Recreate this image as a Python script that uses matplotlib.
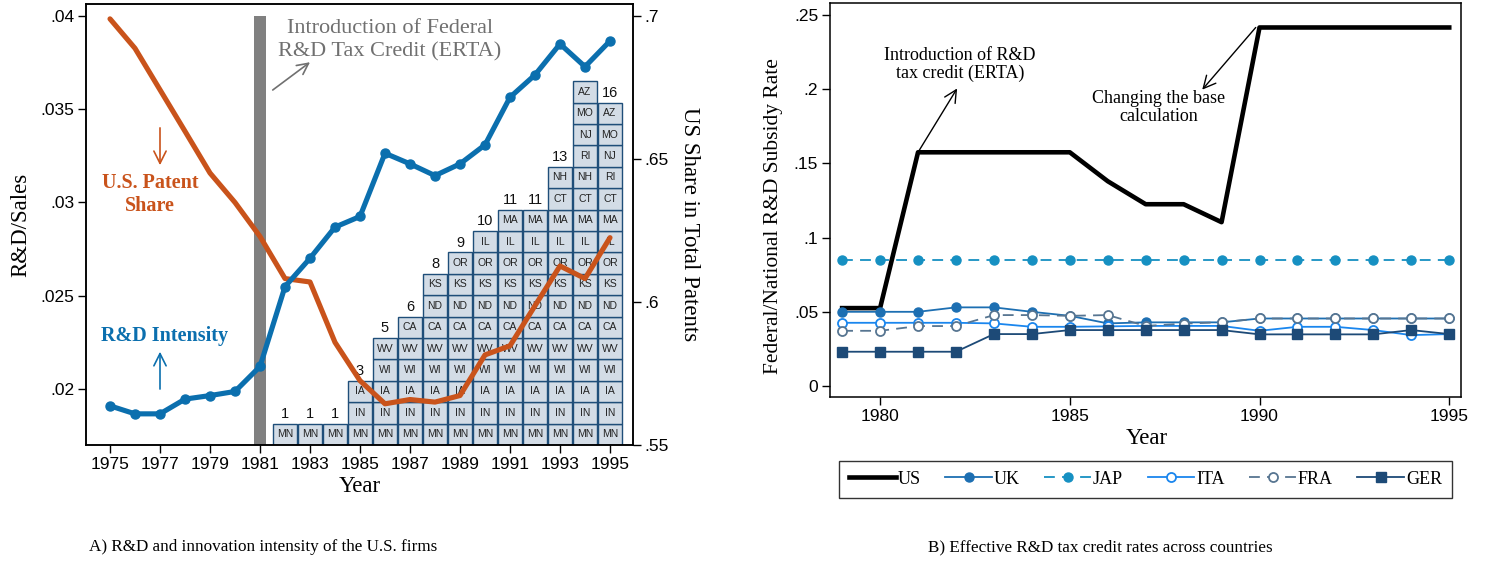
import numpy as np
import matplotlib.pyplot as plt

plt.rcParams['font.family'] = 'Liberation Serif'
SANS = 'Liberation Sans'

# ---- panel A data ----
years_a = list(range(1975, 1996))
rd_sales = [0.0191, 0.01867, 0.01867, 0.01946, 0.01965, 0.01987, 0.02121,
            0.02549, 0.02701, 0.02868, 0.02925, 0.03264, 0.03207, 0.03144,
            0.03207, 0.03309, 0.03564, 0.03684, 0.0385, 0.03728, 0.03866]
us_patent_share = [0.699, 0.6887, 0.6742, 0.6597, 0.6451, 0.6348, 0.6229,
                   0.6082, 0.607, 0.5859, 0.5725, 0.5644, 0.5659, 0.565,
                   0.5673, 0.5815, 0.5847, 0.5987, 0.6126, 0.6082, 0.6225]

bar_years = list(range(1982, 1996))
bar_states = [
    "MN",
    "MN",
    "MN",
    "MN IN IA",
    "MN IN IA WI WV",
    "MN IN IA WI WV CA",
    "MN IN IA WI WV CA ND KS",
    "MN IN IA WI WV CA ND KS OR",
    "MN IN IA WI WV CA ND KS OR IL",
    "MN IN IA WI WV CA ND KS OR IL MA",
    "MN IN IA WI WV CA ND KS OR IL MA",
    "MN IN IA WI WV CA ND KS OR IL MA CT NH",
    "MN IN IA WI WV CA ND KS OR IL MA CT NH RI NJ MO AZ",
    "MN IN IA WI WV CA ND KS OR IL MA CT RI NJ MO AZ",
]
# 1994 count is hidden behind the line in the original
bar_count_labels = ['1', '1', '1', '3', '5', '6', '8', '9', '10', '11', '11',
                    '13', '', '16']

# ---- panel B data ----
years_b = list(range(1979, 1996))
rate_us = [0.0525, 0.0525, 0.1575, 0.1575, 0.1575, 0.1575, 0.1575, 0.138,
           0.1225, 0.1225, 0.1104, 0.2416, 0.2416, 0.2416, 0.2416, 0.2416, 0.2416]
rate_uk = [0.05, 0.05, 0.05, 0.053, 0.053, 0.05, 0.0473, 0.0422, 0.0429,
           0.0429, 0.0429, 0.0455, 0.0455, 0.0455, 0.0455, 0.0455, 0.0455]
rate_jap = [0.085, 0.085, 0.085, 0.085, 0.085, 0.085, 0.085, 0.085, 0.085,
            0.085, 0.085, 0.085, 0.085, 0.085, 0.085, 0.085, 0.085]
rate_ita = [0.0426, 0.0426, 0.0426, 0.0426, 0.0422, 0.0399, 0.0399, 0.0402,
            0.0405, 0.0405, 0.0405, 0.0372, 0.0399, 0.0399, 0.0377, 0.0343, 0.035]
rate_fra = [0.0372, 0.0372, 0.0404, 0.0404, 0.0478, 0.0478, 0.0473, 0.0478,
            0.0405, 0.042, 0.043, 0.0455, 0.0455, 0.0455, 0.0455, 0.0455, 0.0455]
rate_ger = [0.0231, 0.0231, 0.0231, 0.0231, 0.035, 0.035, 0.0377, 0.0377,
            0.0377, 0.0377, 0.0377, 0.0348, 0.0348, 0.0348, 0.0348, 0.0377, 0.035]


def dotfmt(v):
    return '0' if abs(v) < 1e-12 else ('%g' % v).lstrip('0')


BLUE = '#0b6fae'
ORANGE = '#c9531b'
GRAY = '#707070'

fig = plt.figure(figsize=(14.86, 5.62), dpi=100)

# ================= Panel A =================
posA = [86 / 1486, 1 - 445 / 562, (633 - 86) / 1486, (445 - 4) / 562]
ax_l = fig.add_axes(posA)
ax_r = ax_l.twinx()
ax_b = ax_l.twinx()
ax_b.set_zorder(1)
ax_r.set_zorder(2)
ax_l.set_zorder(3)
ax_l.patch.set_visible(False)
ax_r.patch.set_visible(False)

ax_l.set_xlim(1974.04, 1995.92)

# stacked state cells
ax_b.axis('off')
ax_b.set_ylim(0, 441 / 21.4)
for yr, states, lab in zip(bar_years, bar_states, bar_count_labels):
    st = states.split()
    for i, s in enumerate(st):
        ax_b.bar(yr, 1, bottom=i, width=0.98, facecolor='#d3dce6',
                 edgecolor='#1f4e79', linewidth=1.0)
        ax_b.text(yr, i + 0.5, s, ha='center', va='center', fontsize=7.5,
                  family=SANS, color='#222222')
    if lab:
        ax_b.text(yr, len(st) + 0.12, lab, ha='center', va='bottom',
                  fontsize=10.5, family=SANS, color='#111111')

# right axis: patent share + 1981 marker bar
ax_r.set_ylim(0.55, 0.7042)
ax_r.bar(1981, 0.15, bottom=0.55, width=0.5, color='#808080', zorder=1)
ax_r.plot(years_a, us_patent_share, color=ORANGE, lw=3.7,
          solid_capstyle='round', zorder=3)
ax_r.set_yticks([0.55, 0.6, 0.65, 0.7])
ax_r.set_yticklabels([dotfmt(v) for v in [0.55, 0.6, 0.65, 0.7]])
ax_r.set_ylabel('US Share in Total Patents', fontsize=16.5, rotation=-90,
                va='center', ha='center')
ax_r.yaxis.set_label_coords(1.104, 0.5)

# left axis: R&D intensity
ax_l.set_ylim(0.01700, 0.04064)
ax_l.plot(years_a, rd_sales, color=BLUE, lw=3.7, marker='o', ms=6.5,
          solid_capstyle='round', zorder=4)
ax_l.set_yticks([0.02, 0.025, 0.03, 0.035, 0.04])
ax_l.set_yticklabels([dotfmt(v) for v in [0.02, 0.025, 0.03, 0.035, 0.04]])
ax_l.set_xticks(list(range(1975, 1996, 2)))
ax_l.set_ylabel('R&D/Sales', fontsize=16.5, va='center', ha='center')
ax_l.yaxis.set_label_coords(-0.12, 0.5)
ax_l.set_xlabel('Year', fontsize=16.5, va='center')
ax_l.xaxis.set_label_coords(0.501, -0.095)

for ax in (ax_l, ax_r):
    ax.tick_params(direction='out', length=5.5, width=1.0, labelsize=12.5,
                   pad=3)
    for lbl in ax.get_xticklabels() + ax.get_yticklabels():
        lbl.set_family(SANS)
    for sp in ax.spines.values():
        sp.set_linewidth(1.1)

ax_l.text(1986.2, 0.0387, 'Introduction of Federal\nR&D Tax Credit (ERTA)',
          ha='center', va='center', fontsize=16, color=GRAY, linespacing=1.3)
ax_l.annotate('', xy=(1983.0, 0.03752), xytext=(1981.51, 0.03603),
              arrowprops=dict(arrowstyle='->', color=GRAY, lw=1.2,
                              mutation_scale=20, shrinkA=0, shrinkB=0))
ax_l.text(1976.6, 0.03041, 'U.S. Patent\nShare', ha='center', va='center',
          fontsize=14.5, color=ORANGE, fontweight='bold', linespacing=1.2)
ax_l.annotate('', xy=(1977.0, 0.0320), xytext=(1977.0, 0.0340),
              arrowprops=dict(arrowstyle='->', color=ORANGE, lw=1.2,
                              mutation_scale=22, shrinkA=0, shrinkB=0))
ax_l.text(1977.19, 0.02285, 'R&D Intensity', ha='center', va='center',
          fontsize=14.5, color=BLUE, fontweight='bold')
ax_l.annotate('', xy=(1977.0, 0.0220), xytext=(1977.0, 0.0200),
              arrowprops=dict(arrowstyle='->', color=BLUE, lw=1.2,
                              mutation_scale=22, shrinkA=0, shrinkB=0))

# ================= Panel B =================
posB = [830 / 1486, 1 - 396.7 / 562, (1461 - 830) / 1486, (396.7 - 3) / 562]
axb = fig.add_axes(posB)
axb.set_xlim(1978.68, 1995.31)
axb.set_ylim(-0.0072, 0.2581)

ms = 6.5
axb.plot(years_b, rate_us, color='black', lw=3.3, label='US')
axb.plot(years_b, rate_uk, color='#1d6fb2', lw=1.3, marker='o', ms=ms,
         label='UK')
axb.plot(years_b, rate_jap, color='#1690c2', lw=1.3, ls=(0, (6, 4)),
         marker='o', ms=ms, label='JAP')
axb.plot(years_b, rate_ita, color='#1a86ee', lw=1.3, marker='o', ms=ms,
         mfc='white', mew=1.3, label='ITA')
axb.plot(years_b, rate_fra, color='#577591', lw=1.3, ls=(0, (6, 4)),
         marker='o', ms=ms, mfc='white', mew=1.3, label='FRA')
axb.plot(years_b, rate_ger, color='#1d4a77', lw=1.3, marker='s', ms=ms,
         label='GER')

axb.set_xticks([1980, 1985, 1990, 1995])
yt = [0, 0.05, 0.1, 0.15, 0.2, 0.25]
axb.set_yticks(yt)
axb.set_yticklabels([dotfmt(v) for v in yt])
axb.tick_params(direction='out', length=5.5, width=1.0, labelsize=12.5, pad=3)
for lbl in axb.get_xticklabels() + axb.get_yticklabels():
    lbl.set_family(SANS)
for sp in axb.spines.values():
    sp.set_linewidth(1.1)
axb.set_ylabel('Federal/National R&D Subsidy Rate', fontsize=15.5,
               va='center', ha='center')
axb.yaxis.set_label_coords(-0.090, 0.46)
axb.set_xlabel('Year', fontsize=16.5, va='center')
axb.xaxis.set_label_coords(0.502, -0.105)

axb.text(1982.1, 0.2167, 'Introduction of R&D\ntax credit (ERTA)',
         ha='center', va='center', fontsize=13, linespacing=1.1)
axb.annotate('', xy=(1982.03, 0.2005), xytext=(1981, rate_us[2]),
             arrowprops=dict(arrowstyle='->', color='black', lw=1.0,
                             mutation_scale=22, shrinkA=0, shrinkB=0))
axb.text(1987.34, 0.1877, 'Changing the base\ncalculation',
         ha='center', va='center', fontsize=13, linespacing=1.1)
axb.annotate('', xy=(1988.49, 0.1997), xytext=(1989.9, rate_us[11]),
             arrowprops=dict(arrowstyle='->', color='black', lw=1.0,
                             mutation_scale=22, shrinkA=0, shrinkB=0))

leg = fig.legend(*axb.get_legend_handles_labels(), loc='center',
                 bbox_to_anchor=(1145.5 / 1486, 1 - 479.2 / 562), ncol=6,
                 frameon=True, fancybox=False, edgecolor='black',
                 fontsize=13, handlelength=2.6, handletextpad=0.1,
                 columnspacing=1.35, borderpad=0.55)
leg.get_frame().set_linewidth(1.0)

# captions
fig.text(263 / 1486, 1 - 547 / 562,
         'A) R&D and innovation intensity of the U.S. firms',
         ha='center', va='center', fontsize=12.3)
fig.text(1100 / 1486, 1 - 547 / 562,
         'B) Effective R&D tax credit rates across countries',
         ha='center', va='center', fontsize=12.3)

fig.savefig('out.png', dpi=100)
